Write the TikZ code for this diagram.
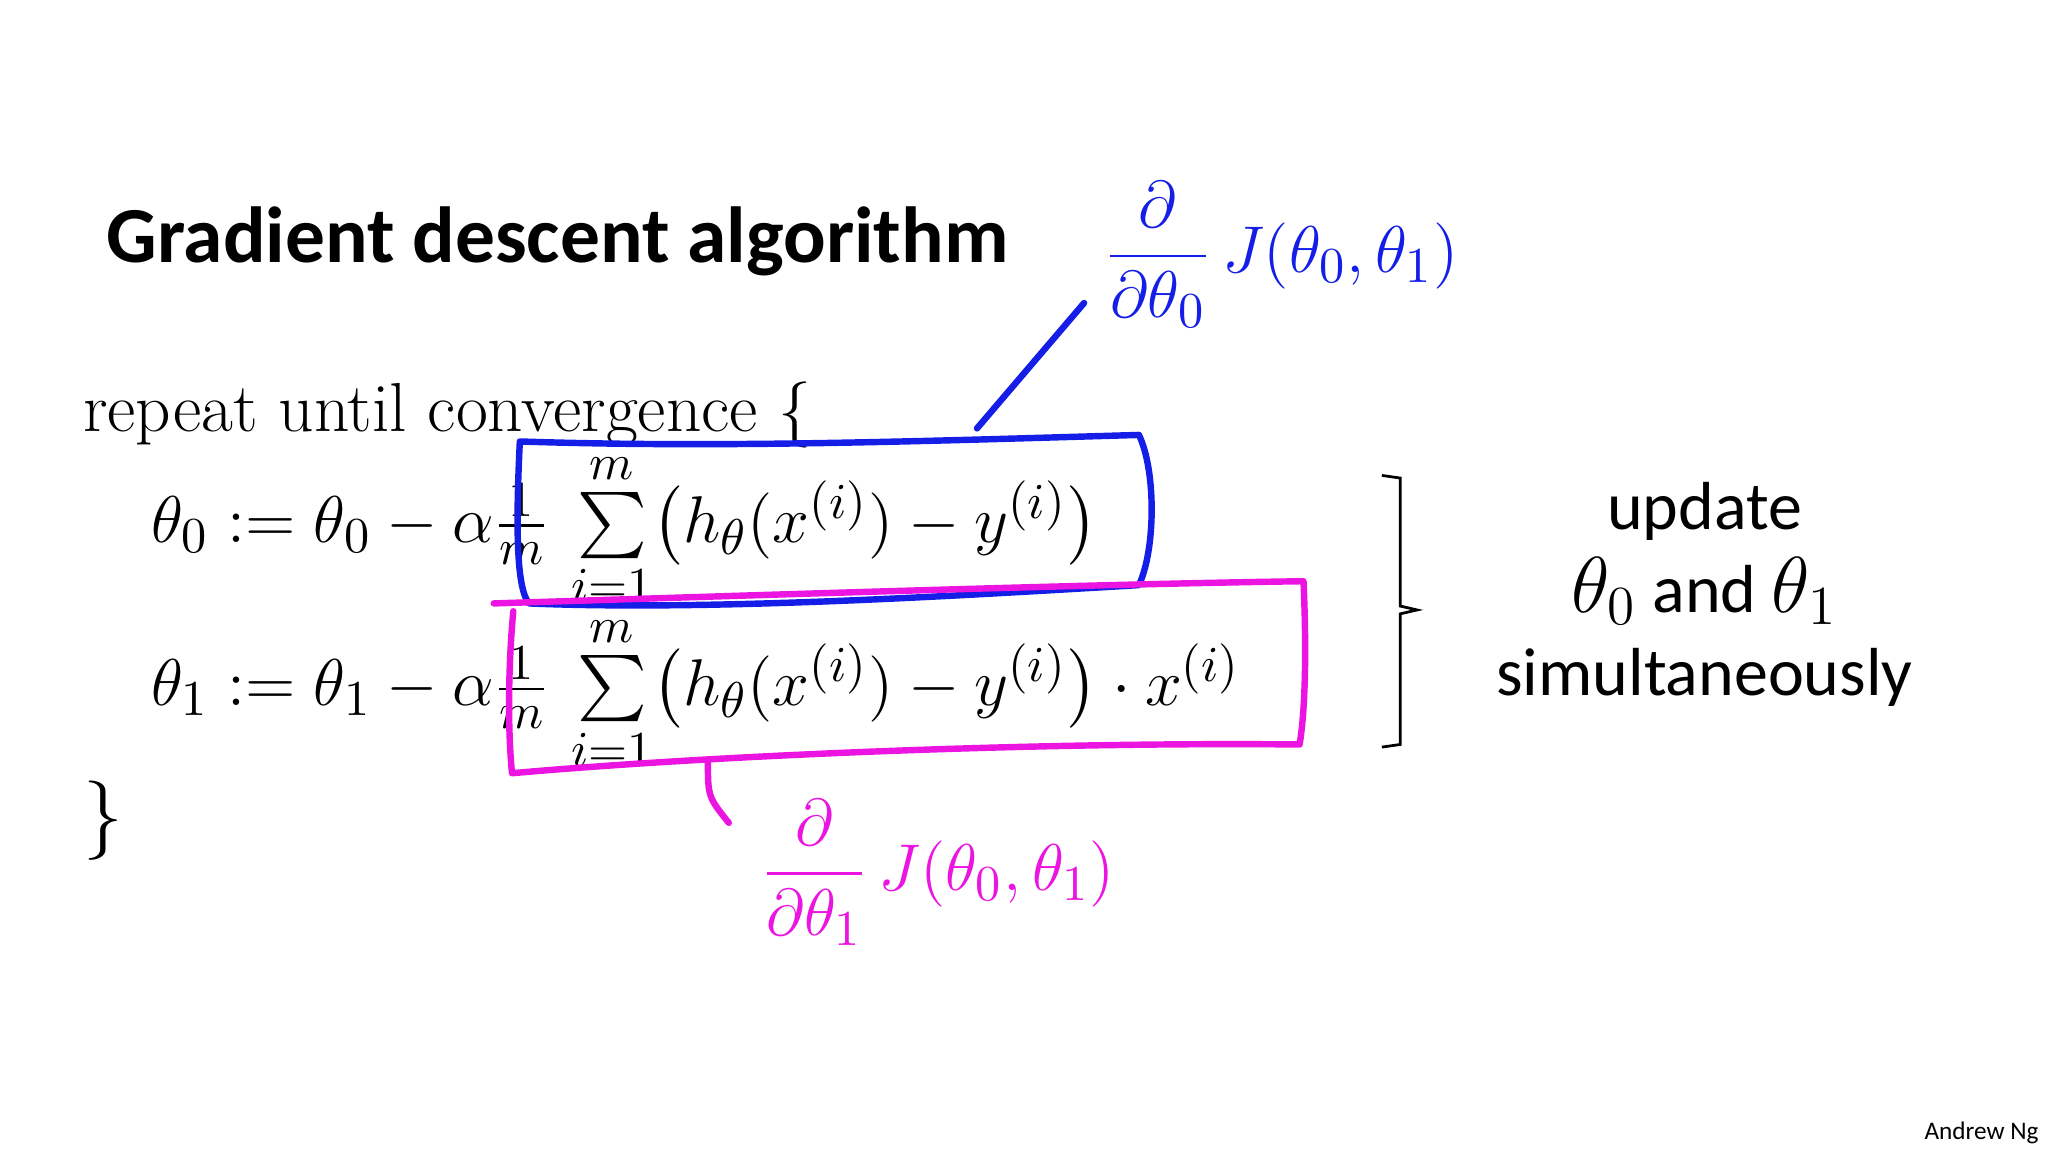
\documentclass[tikz,border=0pt]{standalone}
\usepackage{amsmath}
\usepackage{fontspec}
\setmainfont{Carlito}
\newfontfamily\lmr{Latin Modern Roman}
\usetikzlibrary{decorations.pathreplacing}
\definecolor{hblue}{RGB}{20,30,230}
\definecolor{hpink}{RGB}{235,20,225}
\tikzset{
  pen/.style={line width=1.4pt,line cap=round,line join=round},
  mathtxt/.style={anchor=west,inner sep=0pt,font=\fontsize{15.5}{18}\selectfont},
  hand/.style={inner sep=0pt,font=\fontsize{15}{18}\selectfont}
}
\begin{document}
\begin{tikzpicture}[x=0.01cm,y=-0.01cm]
\useasboundingbox (0,0) rectangle (1568,882);
\node[anchor=west,inner sep=0pt,font=\fontsize{17.3}{20}\bfseries\selectfont] (title) at (81,185) {Gradient descent algorithm};
\node[anchor=west,inner sep=0pt,font=\fontsize{15.1}{16}\lmr] (rep) at (63,318) {repeat until convergence $\{$};
\node[mathtxt] (e0) at (115,406) {$\theta_0 := \theta_0 - \alpha\tfrac{1}{m}\,\sum\limits_{i=1}^{m}\bigl(h_\theta(x^{(i)})-y^{(i)}\bigr)$};
\node[mathtxt] (e1) at (115,531) {$\theta_1 := \theta_1 - \alpha\tfrac{1}{m}\,\sum\limits_{i=1}^{m}\bigl(h_\theta(x^{(i)})-y^{(i)}\bigr)\cdot x^{(i)}$};
\node[anchor=west,inner sep=0pt,font=\fontsize{16}{18}\selectfont] (cl) at (63,628) {$\}$};
% brace
\draw[line width=0.6pt] (1058,364) -- (1072,366) -- (1072,464) -- (1085,467) -- (1072,470) -- (1072,570) -- (1058,572);
\node[align=center,font=\fontsize{14.8}{19}\selectfont,inner sep=0pt] (upd) at (1305,455) {update\\[-1pt] {\fontsize{17}{18}\selectfont$\theta_0$} and {\fontsize{17}{18}\selectfont$\theta_1$}\\[-1pt] simultaneously};
\node[anchor=south east,font=\fontsize{5.5}{6}\selectfont,inner sep=1pt] (an) at (1565,880) {Andrew Ng};
% blue annotation
\draw[pen,hblue] (398,338) .. controls (395,400) and (395,450) .. (405,462) .. controls (550,468) and (750,455) .. (872,448) .. controls (885,420) and (885,360) .. (872,333) .. controls (700,338) and (550,343) .. (398,338);
\coordinate (bl1) at (748,328);
\coordinate (bl2) at (830,232);
\draw[pen,hblue] (bl1) -- (bl2);
\node[hand,hblue,anchor=west] (bj) at (845,195) {$\dfrac{\partial}{\partial\theta_0}\,J(\theta_0,\theta_1)$};
% pink annotation
\draw[pen,hpink] (378,462) .. controls (600,455) and (850,447) .. (998,445) .. controls (1000,490) and (1000,540) .. (995,570) .. controls (800,568) and (550,578) .. (392,592) .. controls (388,550) and (390,500) .. (393,468);
\coordinate (pl1) at (542,582);
\coordinate (pl2) at (558,630);
\draw[pen,hpink] (pl1) .. controls (542,610) .. (pl2);
\node[hand,hpink,anchor=west] (pj) at (582,668) {$\dfrac{\partial}{\partial\theta_1}\,J(\theta_0,\theta_1)$};
\end{tikzpicture}
\end{document}
